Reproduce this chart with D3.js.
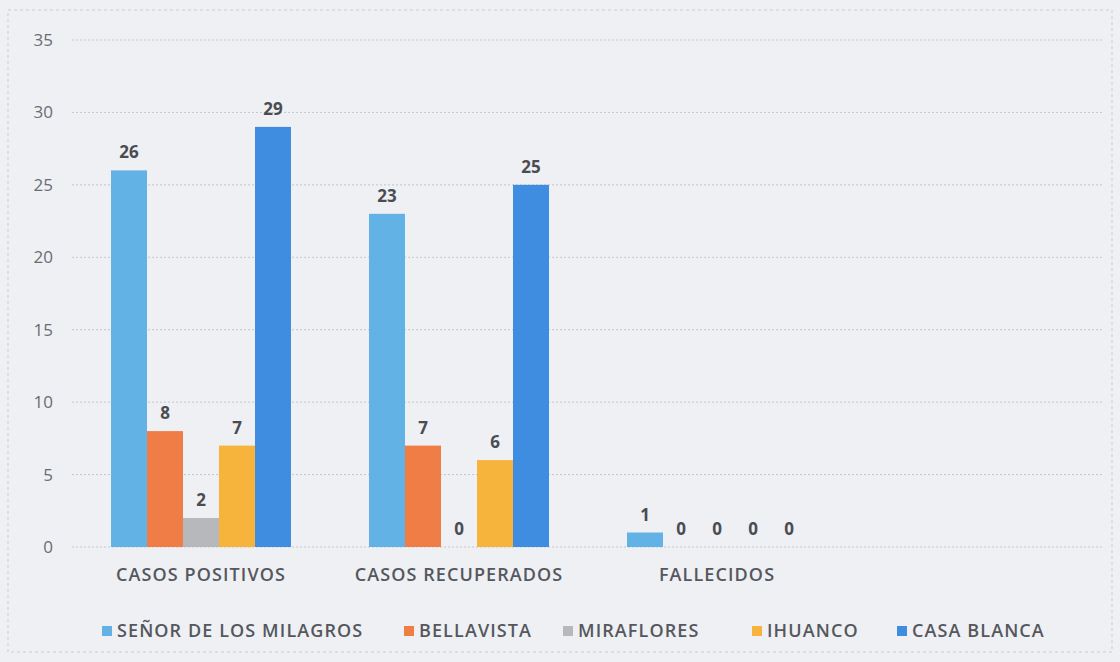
<!DOCTYPE html>
<html>
<head>
<meta charset="utf-8">
<script src="https://cdn.jsdelivr.net/npm/d3@7"></script>
<style>
  body { margin: 0; background: #eef0f4; }
  svg { display: block; font-family: "Open Sans", "Liberation Sans", sans-serif; }
</style>
</head>
<body>
<script>
const categories = ["CASOS POSITIVOS", "CASOS RECUPERADOS", "FALLECIDOS"];
const series = ["SEÑOR DE LOS MILAGROS", "BELLAVISTA", "MIRAFLORES", "IHUANCO", "CASA BLANCA"];
const colors = ["#62b2e6", "#ef7d45", "#b7b8bc", "#f6b43c", "#3f8de0"];
const senor = [26, 23, 1];
const bellavista = [8, 7, 0];
const miraflores = [2, 0, 0];
const ihuanco = [7, 6, 0];
const casaBlanca = [29, 25, 0];
const yTicks = [0, 5, 10, 15, 20, 25, 30, 35];

const values = [senor, bellavista, miraflores, ihuanco, casaBlanca];

const width = 1120, height = 662;
const plotLeft = 72, plotRight = 1102, slot = 258;

const svg = d3.select("body").append("svg")
  .attr("width", width)
  .attr("height", height);

// chart border (dashed, like the scan)
svg.append("rect")
  .attr("x", 8).attr("y", 10)
  .attr("width", width - 16).attr("height", height - 20)
  .attr("fill", "none")
  .attr("stroke", "#c9ccd2")
  .attr("stroke-dasharray", "3,3");

const y = d3.scaleLinear().domain([0, 35]).range([547, 40]);

const x0 = d3.scaleBand()
  .domain(categories)
  .range([plotLeft, plotLeft + slot * categories.length])
  .paddingInner(0).paddingOuter(0);

const x1 = d3.scaleBand()
  .domain(series)
  .range([0, x0.bandwidth()])
  .paddingInner(0)
  .paddingOuter(39 / 36);

// gridlines
svg.append("g")
  .selectAll("line")
  .data(yTicks)
  .enter().append("line")
  .attr("x1", plotLeft).attr("x2", plotRight)
  .attr("y1", d => y(d)).attr("y2", d => y(d))
  .attr("stroke", "#c4c6cc")
  .attr("stroke-width", 1)
  .attr("stroke-dasharray", "2,2");

// y axis labels
const yAxis = d3.axisLeft(y).tickValues(yTicks).tickSize(0).tickPadding(0);
const ya = svg.append("g")
  .attr("transform", "translate(53,0)")
  .call(yAxis);
ya.select(".domain").remove();
ya.selectAll("text")
  .attr("font-size", 17)
  .attr("fill", "#6a6c72")
  .style("font-family", "'Open Sans', sans-serif");

// bars
const groups = svg.append("g")
  .selectAll("g")
  .data(categories)
  .enter().append("g")
  .attr("transform", d => "translate(" + x0(d) + ",0)");

groups.selectAll("rect")
  .data((c, ci) => series.map((s, si) => ({ s: s, si: si, v: values[si][ci] })))
  .enter().append("rect")
  .attr("x", d => x1(d.s))
  .attr("width", x1.bandwidth())
  .attr("y", d => y(d.v))
  .attr("height", d => y(0) - y(d.v))
  .attr("fill", d => colors[d.si]);

groups.selectAll("text")
  .data((c, ci) => series.map((s, si) => ({ s: s, si: si, v: values[si][ci] })))
  .enter().append("text")
  .attr("x", d => x1(d.s) + x1.bandwidth() / 2)
  .attr("y", d => y(d.v) - 12)
  .attr("text-anchor", "middle")
  .attr("font-size", 17)
  .attr("font-weight", "bold")
  .attr("fill", "#4a4c52")
  .text(d => d.v);

// category labels
const xAxis = d3.axisBottom(x0).tickSize(0).tickPadding(0);
const xa = svg.append("g")
  .attr("transform", "translate(0,568)")
  .call(xAxis);
xa.select(".domain").remove();
xa.selectAll("text")
  .attr("font-size", 18)
  .attr("font-weight", 600)
  .attr("letter-spacing", 1.1)
  .attr("fill", "#55575d")
  .style("font-family", "'Open Sans', sans-serif");

// legend
const legendX = [102, 404, 563, 752, 897];
const legend = svg.append("g")
  .selectAll("g")
  .data(series)
  .enter().append("g")
  .attr("transform", (d, i) => "translate(" + legendX[i] + ",631)");

legend.append("rect")
  .attr("x", 0).attr("y", -5)
  .attr("width", 10).attr("height", 10)
  .attr("fill", (d, i) => colors[i]);

legend.append("text")
  .attr("x", 15)
  .attr("dy", "0.35em")
  .attr("font-size", 18)
  .attr("font-weight", 600)
  .attr("letter-spacing", 1.1)
  .attr("fill", "#55575d")
  .text(d => d);
</script>
</body>
</html>
